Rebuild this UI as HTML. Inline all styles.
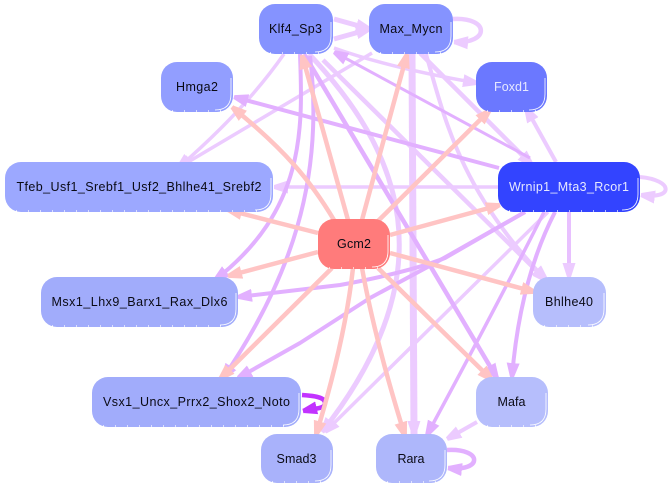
<!DOCTYPE html>
<html lang="en">
<head>
<meta charset="utf-8">
<title>Regulatory network</title>
<style>
html,body{margin:0;padding:0;background:#fff;width:670px;height:489px;overflow:hidden}
svg{display:block}
text{font-family:"Liberation Sans",sans-serif;font-size:12.5px;fill:#0a0a14;text-anchor:middle}
.e{fill:none;stroke-linecap:butt;stroke-linejoin:round}
.l{stroke:#eccbff}.m{stroke:#e2b0ff}.p{stroke:#ffc4c4}.v{stroke:#c233ff}
.w{fill:none;stroke:#fff;stroke-width:.8}
.d{fill:none;stroke:#fff;stroke-width:1.2;stroke-dasharray:1 11}
</style>
</head>
<body>
<svg width="670" height="489" viewBox="0 0 670 489" xmlns="http://www.w3.org/2000/svg">
<defs>
<marker id="al" markerUnits="userSpaceOnUse" markerWidth="16" markerHeight="16" refX="14" refY="7" orient="auto"><path d="M0,0.5L14,5V9L0,13.5Z" fill="#eccbff"/></marker>
<marker id="am" markerUnits="userSpaceOnUse" markerWidth="16" markerHeight="16" refX="14" refY="7" orient="auto"><path d="M0,0.5L14,5V9L0,13.5Z" fill="#e2b0ff"/></marker>
<marker id="ap" markerUnits="userSpaceOnUse" markerWidth="16" markerHeight="16" refX="14" refY="7" orient="auto"><path d="M0,0.5L14,5V9L0,13.5Z" fill="#ffc4c4"/></marker>
<marker id="av" markerUnits="userSpaceOnUse" markerWidth="16" markerHeight="16" refX="14" refY="7" orient="auto"><path d="M0,0.5L14,5V9L0,13.5Z" fill="#c233ff"/></marker>
</defs>

<!-- light edges -->
<g class="e l" stroke-width="4">
<path d="M334,19L370,29" stroke-width="5" marker-end="url(#al)"/>
<path d="M334,39L370,29" stroke-width="5" marker-end="url(#al)"/>
<path d="M453,19C490,17 490,44 454,42" stroke-width="4.500" marker-end="url(#al)"/>
<path d="M334,48Q390,68 477,83" stroke-width="3.500" marker-end="url(#al)"/>
<path d="M284,54Q245,110 178,168" stroke-width="3.500" marker-end="url(#al)"/>
<path d="M372,53L178,168" stroke-width="3.500" marker-end="url(#al)"/>
<path d="M498,187L274,187" stroke-width="3.500" marker-end="url(#al)"/>
<path d="M556,162L526,108" stroke-width="4" marker-end="url(#al)"/>
<path d="M640,177C674,180 674,200 641,195" stroke-width="4" marker-end="url(#al)"/>
<path d="M412,54Q413,240 414,435" stroke-width="7" marker-end="url(#al)"/>
<path d="M420,53L532,165" stroke-width="4.500" marker-end="url(#al)"/>
<path d="M323,60L547,281" stroke-width="4.500" marker-end="url(#al)"/>
<path d="M426,54C445,120 460,190 546,280" stroke-width="4" marker-end="url(#al)"/>
<path d="M309,54C400,150 450,270 322,432" stroke-width="5" marker-end="url(#al)"/>
<path d="M548,212L325,432" stroke-width="3.500" marker-end="url(#al)"/>
<path d="M477,422L447,439" stroke-width="4" marker-end="url(#al)"/>
<path d="M569,212L569,277" stroke-width="4" stroke="#e8c0ff" marker-end="url(#al)"/>
</g>

<!-- medium edges -->
<g class="e m" stroke-width="3.500">
<path d="M530,158L334,52" stroke-width="3" marker-end="url(#am)"/>
<path d="M499,168L234,97" stroke-width="4" marker-end="url(#am)"/>
<path d="M525,212L445,258Q410,272 340,285L238,297" stroke-width="4" marker-end="url(#am)"/>
<path d="M525,212L435,263L370,298L300,343L238,378" stroke-width="4" marker-end="url(#am)"/>
<path d="M300,54C303,130 305,210 215,280" stroke-width="4" marker-end="url(#am)"/>
<path d="M310,56C325,180 290,280 223,378" stroke-width="4" marker-end="url(#am)"/>
<path d="M304,54L497,378" stroke-width="4.500" marker-end="url(#am)"/>
<path d="M555,212Q520,280 512,377" stroke-width="4" marker-end="url(#am)"/>
<path d="M544,212Q500,300 427,435" stroke-width="3.500" marker-end="url(#am)"/>
<path d="M447,450C483,448 483,472 448,468" stroke-width="4.500" marker-end="url(#am)"/>
</g>
<path class="e v" stroke-width="4.500" d="M302,395C318,396 325,398 325,403C325,409 316,408 303,411" marker-end="url(#av)"/>

<!-- pink edges -->
<g class="e p" stroke-width="4.500">
<path d="M348,220L302,55" marker-end="url(#ap)"/>
<path d="M362,220L407,54" marker-end="url(#ap)"/>
<path d="M378,221L490,110" marker-end="url(#ap)"/>
<path d="M334,220C310,180 285,150 232,107" marker-end="url(#ap)"/>
<path d="M318,233L228,210" marker-end="url(#ap)"/>
<path d="M390,235L500,205" marker-end="url(#ap)"/>
<path d="M318,252L228,276" marker-end="url(#ap)"/>
<path d="M390,253L535,292" marker-end="url(#ap)"/>
<path d="M378,268L492,380" marker-end="url(#ap)"/>
<path d="M362,268Q375,340 405,436" marker-end="url(#ap)"/>
<path d="M353,268Q345,340 316,435" marker-end="url(#ap)"/>
<path d="M332,268L220,379" marker-end="url(#ap)"/>
</g>

<!-- nodes -->
<rect x="259" y="4" width="74" height="50" rx="16" fill="#8593ff"/>
<path class="w" d="M331,22V36Q331,52 315,52"/><path class="d" d="M270,53H322"/>
<text x="295.500" y="33" textLength="53" lengthAdjust="spacing">Klf4_Sp3</text>

<rect x="369" y="4" width="84" height="50" rx="16" fill="#8593ff"/>
<path class="w" d="M451,22V36Q451,52 435,52"/><path class="d" d="M380,53H442"/>
<text x="411" y="33" textLength="63" lengthAdjust="spacing">Max_Mycn</text>

<rect x="476" y="62" width="71" height="50" rx="16" fill="#6b78ff"/>
<path class="w" d="M545,78V94Q545,110 529,110"/><path class="d" d="M487,111H536"/>
<text x="511.500" y="91" textLength="35" lengthAdjust="spacing" style="fill:#e6e9ff">Foxd1</text>

<rect x="498" y="162" width="142" height="50" rx="16" fill="#3344ff"/>
<path class="w" d="M638,178V194Q638,210 622,210"/><path class="d" d="M509,211H629"/>
<text x="569" y="191" textLength="120" lengthAdjust="spacing" style="fill:#e6e9ff">Wrnip1_Mta3_Rcor1</text>

<rect x="161" y="62" width="72" height="50" rx="16" fill="#929eff"/>
<path class="w" d="M231,78V94Q231,110 215,110"/><path class="d" d="M172,111H222"/>
<text x="197" y="91" textLength="42" lengthAdjust="spacing">Hmga2</text>

<rect x="5" y="162" width="268" height="50" rx="16" fill="#9ca8ff"/>
<path class="w" d="M271,178V194Q271,210 255,210"/><path class="d" d="M16,211H262"/>
<text x="139" y="191" textLength="245" lengthAdjust="spacing">Tfeb_Usf1_Srebf1_Usf2_Bhlhe41_Srebf2</text>

<rect x="41" y="277" width="197" height="50" rx="16" fill="#a1acfb"/>
<path class="w" d="M236,293V309Q236,325 220,325"/><path class="d" d="M52,326H227"/>
<text x="139.500" y="306" textLength="176" lengthAdjust="spacing">Msx1_Lhx9_Barx1_Rax_Dlx6</text>

<rect x="92" y="377" width="209" height="50" rx="16" fill="#a1acfb"/>
<path class="w" d="M299,393V409Q299,425 283,425"/><path class="d" d="M103,426H290"/>
<text x="196.500" y="406" textLength="187" lengthAdjust="spacing">Vsx1_Uncx_Prrx2_Shox2_Noto</text>

<rect x="261" y="434" width="72" height="49" rx="16" fill="#a9b2fb"/>
<path class="w" d="M331,450V465Q331,481 315,481"/><path class="d" d="M272,482H322"/>
<text x="296.500" y="463" textLength="40" lengthAdjust="spacing">Smad3</text>

<rect x="376" y="434" width="71" height="49" rx="16" fill="#aeb7fb"/>
<path class="w" d="M445,450V465Q445,481 429,481"/><path class="d" d="M387,482H436"/>
<text x="411" y="463" textLength="27" lengthAdjust="spacing">Rara</text>

<rect x="476" y="377" width="72" height="50" rx="16" fill="#b6befc"/>
<path class="w" d="M546,393V409Q546,425 530,425"/><path class="d" d="M487,426H537"/>
<text x="511.500" y="406" textLength="28" lengthAdjust="spacing">Mafa</text>

<rect x="533" y="277" width="73" height="50" rx="16" fill="#b6befc"/>
<path class="w" d="M604,293V309Q604,325 588,325"/><path class="d" d="M544,326H595"/>
<text x="569" y="306" textLength="48" lengthAdjust="spacing">Bhlhe40</text>

<rect x="318" y="219" width="72" height="50" rx="16" fill="#ff7b7b"/>
<path class="w" d="M388,235V251Q388,267 372,267"/><path class="d" d="M329,268H379"/>
<text x="354" y="248" textLength="34" lengthAdjust="spacing">Gcm2</text>
</svg>
</body>
</html>
